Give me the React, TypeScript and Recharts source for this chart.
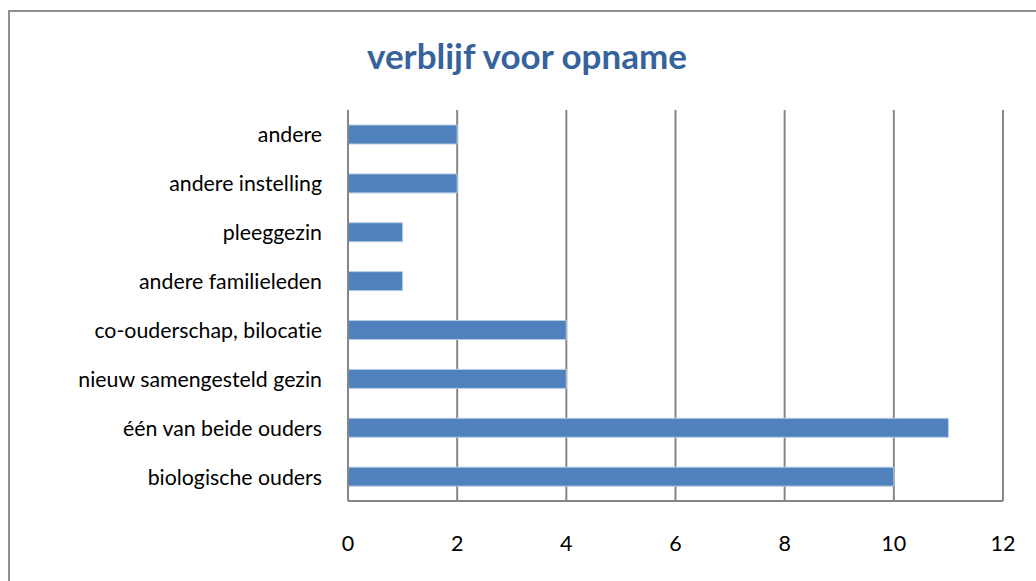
import React from 'react';
import { BarChart, Bar, XAxis, YAxis, CartesianGrid } from 'recharts';

const categories = [
  'andere',
  'andere instelling',
  'pleeggezin',
  'andere familieleden',
  'co-ouderschap, bilocatie',
  'nieuw samengesteld gezin',
  'één van beide ouders',
  'biologische ouders',
];
const values = [2, 2, 1, 1, 4, 4, 11, 10];
const xTicks = [0, 2, 4, 6, 8, 10, 12];
const title = 'verblijf voor opname';

const data = categories.map((name, i) => ({ name, value: values[i] }));

const FONT = 'Lato, "Open Sans", sans-serif';
const GRID = '#868686';
const noLig = { fontVariantLigatures: 'none' as const, fontFeatureSettings: '"liga" 0, "clig" 0' };

const XTick = (props: any) => {
  const { x, y, payload } = props;
  return (
    <text x={x} y={y + 42} textAnchor="middle" dominantBaseline="central" fontFamily={FONT} fontSize={21.5} fill="#000" style={noLig}>
      {payload.value}
    </text>
  );
};

const YTick = (props: any) => {
  const { y, payload } = props;
  return (
    <text x={322} y={y} textAnchor="end" dominantBaseline="central" fontFamily={FONT} fontSize={21.3} fill="#000" style={noLig}>
      {payload.value}
    </text>
  );
};

export default function App() {
  return (
    <div style={{ position: 'absolute', left: 0, top: 0, width: 1036, height: 581, overflow: 'hidden', background: '#fff' }}>
      <div style={{ position: 'absolute', left: 8, top: 10, width: 1200, height: 800, border: '2px solid #909090', boxSizing: 'border-box' }} />
      <div style={{ position: 'absolute', left: 0, top: 0 }}>
        <BarChart
          width={1036}
          height={581}
          data={data}
          layout="vertical"
          margin={{ top: 110, right: 33, bottom: 50, left: 0 }}
          barCategoryGap={0}
        >
          <text x={527} y={55} textAnchor="middle" dominantBaseline="central" fontFamily={FONT} fontSize={35} fontWeight="bold" fill="#36639B" style={noLig}>
            {title}
          </text>
          <CartesianGrid horizontal={false} vertical stroke={GRID} strokeWidth={2} />
          <XAxis
            type="number"
            domain={[0, 12]}
            ticks={xTicks}
            interval={0}
            height={30}
            tickLine={false}
            tickSize={0}
            tickMargin={0}
            axisLine={{ stroke: GRID, strokeWidth: 2 }}
            tick={<XTick />}
          />
          <YAxis
            type="category"
            dataKey="name"
            width={348}
            interval={0}
            tickLine={false}
            tickSize={0}
            axisLine={{ stroke: GRID, strokeWidth: 2 }}
            tick={<YTick />}
          />
          <Bar dataKey="value" fill="#4F81BD" stroke="#B9CDE5" strokeWidth={1} barSize={19} isAnimationActive={false} />
        </BarChart>
      </div>
    </div>
  );
}
